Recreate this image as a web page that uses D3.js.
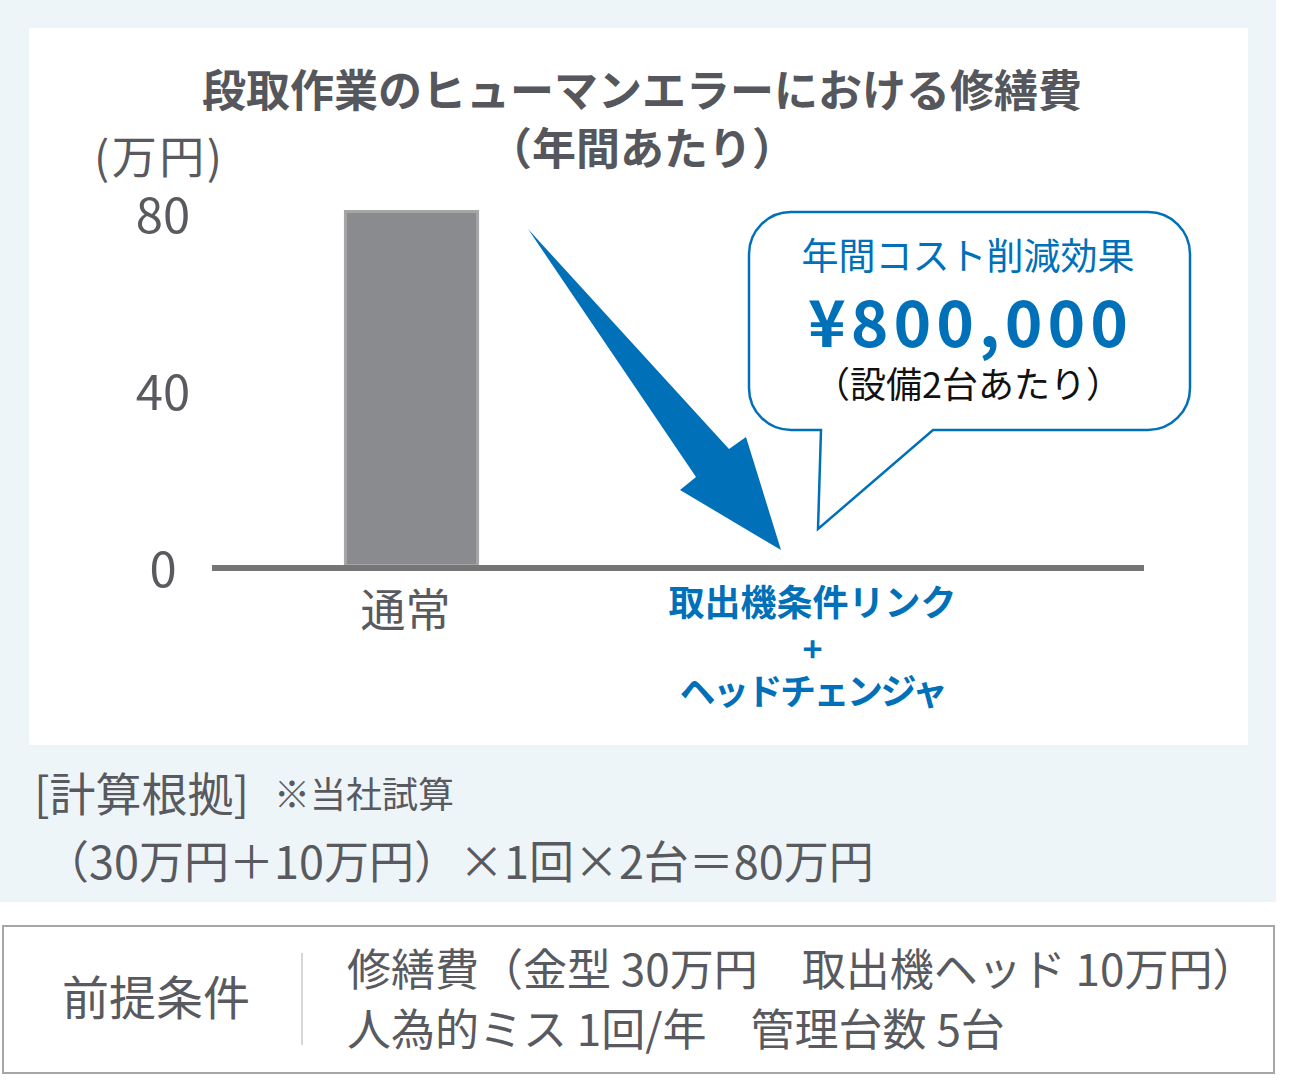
<!DOCTYPE html>
<html>
<head>
<meta charset="utf-8">
<script src="https://cdn.jsdelivr.net/npm/d3@7"></script>
<style>
  body { margin: 0; background: #fff; }
  svg text { font-family: "Noto Sans CJK JP", "Noto Sans", sans-serif; }
</style>
</head>
<body>
<div id="chart"></div>
<script>
// data
var categories = ["通常", "取出機条件リンク"];
var catLines = [["通常"], ["取出機条件リンク", "+", "ヘッドチェンジャ"]];
var values = [80, 0];
var yTicks = [0, 40, 80];

var titleLines = ["段取作業のヒューマンエラーにおける修繕費", "（年間あたり）"];
var unitLabel = "(万円)";
var calloutLines = ["年間コスト削減効果", "¥800,000", "（設備2台あたり）"];
var basisHead = "[計算根拠]";
var basisNote = "※当社試算";
var basisFormula = "（30万円＋10万円）×1回×2台＝80万円";
var condLabel = "前提条件";
var condLines = ["修繕費（金型 30万円　取出機ヘッド 10万円）", "人為的ミス 1回/年　管理台数 5台"];

var width = 1304, height = 1085;
var blue = "#0070b9", grey = "#595a5f";

var svg = d3.select("#chart").append("svg")
    .attr("width", width)
    .attr("height", height);

// backgrounds
svg.append("rect").attr("x", 0).attr("y", 0).attr("width", 1276).attr("height", 902).attr("fill", "#eef5f9");
svg.append("rect").attr("x", 29).attr("y", 28).attr("width", 1219).attr("height", 717).attr("fill", "#fff");

// title
svg.append("g").selectAll("text")
    .data(titleLines)
  .enter().append("text")
    .attr("x", 642)
    .attr("y", function(d, i) { return 107 + i * 58; })
    .attr("text-anchor", "middle")
    .style("font-size", "44px")
    .style("font-weight", "bold")
    .style("fill", "#55575c")
    .text(function(d) { return d; });

svg.append("text")
    .attr("x", 94).attr("y", 174)
    .style("font-size", "45px")
    .style("letter-spacing", "2.5px")
    .style("fill", grey)
    .text(unitLabel);

// scales
var x = d3.scaleBand()
    .domain(categories)
    .range([212, 1012])
    .paddingInner(0.663)
    .paddingOuter(0.329);

var y = d3.scaleLinear()
    .domain([0, 80])
    .range([567, 213]);

// y axis labels (centred under the unit label, as in the original)
var yAxis = svg.append("g")
    .attr("transform", "translate(163,0)")
    .call(d3.axisLeft(y).tickValues(yTicks).tickSize(0).tickPadding(0));
yAxis.select(".domain").remove();
yAxis.selectAll("text")
    .attr("text-anchor", "middle")
    .style("font-size", "49px")
    .style("fill", grey)
    .attr("y", 2)
    .attr("dy", "0.36em");

// bars
svg.append("g").selectAll("rect")
    .data(values)
  .enter().append("rect")
    .attr("x", function(d, i) { return x(categories[i]) + 1.5; })
    .attr("y", function(d) { return y(d) - 1.5; })
    .attr("width", x.bandwidth() - 3)
    .attr("height", function(d) { return Math.max(0, y(0) - y(d)); })
    .style("fill", "#8a8b8f")
    .style("stroke", "#a6a6a6")
    .style("stroke-width", 3);

// baseline
svg.append("line")
    .attr("x1", 212).attr("x2", 1144)
    .attr("y1", y(0) + 1).attr("y2", y(0) + 1)
    .style("stroke", "#767676")
    .style("stroke-width", 6);

// category labels
var catY = [616, 662, 705];
var cat = svg.append("g").selectAll("g")
    .data(categories)
  .enter().append("g")
    .attr("transform", function(d) { return "translate(" + (x(d) + x.bandwidth() / 2) + ",0)"; });

cat.each(function(d, i) {
  var g = d3.select(this);
  catLines[i].forEach(function(t, j) {
    g.append("text")
      .attr("x", i == 0 ? -6 : 0)
      .attr("y", i == 0 ? 627 : catY[j])
      .attr("text-anchor", "middle")
      .style("font-size", i == 0 ? "45px" : (j == 1 ? "34px" : "36px"))
      .style("letter-spacing", i == 1 && j == 2 ? "-2.5px" : "0px")
      .style("font-weight", i == 0 ? "normal" : "bold")
      .style("fill", i == 0 ? grey : blue)
      .text(t);
  });
});

// big arrow
var arrowPts = [[528, 229], [729, 449], [746, 437], [781, 550], [680, 490], [696, 477]];
svg.append("path")
    .attr("d", "M" + arrowPts.join("L") + "Z")
    .style("fill", blue);

// callout bubble
var bx0 = 749, bx1 = 1190, by0 = 212, by1 = 430, r = 42;
var bubble =
  "M" + (bx0 + r) + "," + by0 +
  "H" + (bx1 - r) + "A" + r + "," + r + " 0 0 1 " + bx1 + "," + (by0 + r) +
  "V" + (by1 - r) + "A" + r + "," + r + " 0 0 1 " + (bx1 - r) + "," + by1 +
  "H933L818,529L821," + by1 +
  "H" + (bx0 + r) + "A" + r + "," + r + " 0 0 1 " + bx0 + "," + (by1 - r) +
  "V" + (by0 + r) + "A" + r + "," + r + " 0 0 1 " + (bx0 + r) + "," + by0 + "Z";
svg.append("path")
    .attr("d", bubble)
    .style("fill", "#fff")
    .style("stroke", blue)
    .style("stroke-width", 2.5);

var cSizes = ["37px", "64px", "36px"], cY = [270, 347, 398], cSp = [0, 5, 0];
svg.append("g").selectAll("text")
    .data(calloutLines)
  .enter().append("text")
    .attr("x", function(d, i) { return 968 + cSp[i] / 2; })
    .attr("y", function(d, i) { return cY[i]; })
    .attr("text-anchor", "middle")
    .style("font-size", function(d, i) { return cSizes[i]; })
    .style("letter-spacing", function(d, i) { return cSp[i] + "px"; })
    .style("font-weight", function(d, i) { return i == 1 ? "bold" : "normal"; })
    .style("fill", function(d, i) { return i == 2 ? "#111" : blue; })
    .text(function(d) { return d; });

// calculation basis
svg.append("text").attr("x", 34).attr("y", 811)
    .style("font-size", "46px").style("fill", grey).text(basisHead);
svg.append("text").attr("x", 274).attr("y", 808)
    .style("font-size", "36px").style("fill", grey).text(basisNote);
svg.append("text").attr("x", 44).attr("y", 879)
    .style("font-size", "45px").style("fill", grey).text(basisFormula);

// conditions box
svg.append("rect")
    .attr("x", 3).attr("y", 926).attr("width", 1271).attr("height", 147)
    .style("fill", "#fff").style("stroke", "#a6a6a6").style("stroke-width", 2);
svg.append("line")
    .attr("x1", 302).attr("x2", 302).attr("y1", 953).attr("y2", 1045)
    .style("stroke", "#c8c8c8").style("stroke-width", 1.5);
svg.append("text").attr("x", 156).attr("y", 1015)
    .attr("text-anchor", "middle")
    .style("font-size", "47px").style("fill", grey).text(condLabel);
svg.append("g").selectAll("text")
    .data(condLines)
  .enter().append("text")
    .attr("x", 347)
    .attr("y", function(d, i) { return 986 + i * 60; })
    .style("font-size", "44px")
    .style("fill", grey)
    .text(function(d) { return d; });
</script>
</body>
</html>
